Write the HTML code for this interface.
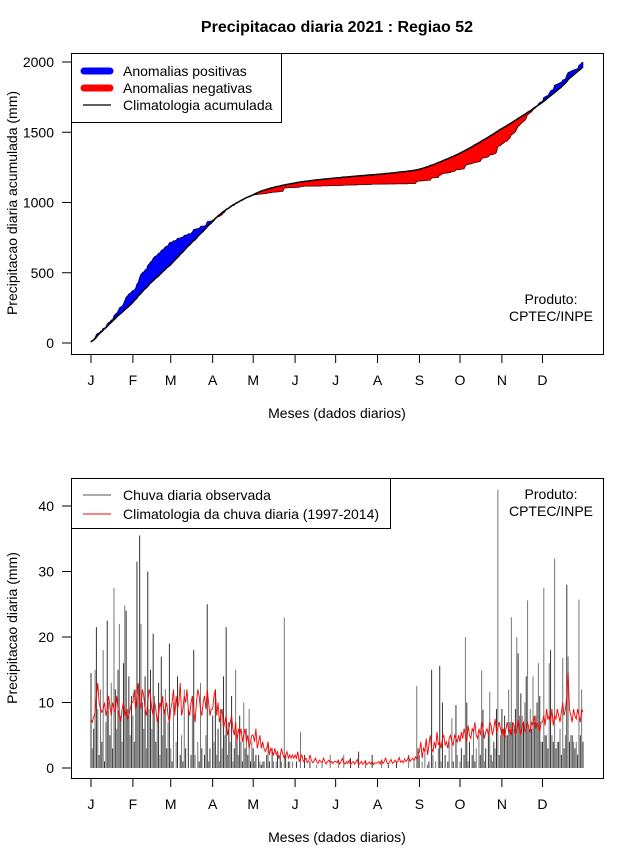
<!DOCTYPE html>
<html><head><meta charset="utf-8"><style>
body{margin:0;background:#fff}
svg{display:block;font-family:"Liberation Sans",sans-serif}
</style></head><body>
<svg id="c" width="640" height="850" viewBox="0 0 640 850" xmlns="http://www.w3.org/2000/svg">
<rect width="640" height="850" fill="#fff"/>
<text x="337" y="32" font-size="16" font-weight="bold" text-anchor="middle">Precipitacao diaria 2021 : Regiao 52</text>
<g id="top"></g>
<g id="bot"></g>
</svg>
<script>
const monthLabels = ["J","F","M","A","M","J","J","A","S","O","N","D"];
const monthStartDays = [1,32,60,91,121,152,182,213,244,274,305,335];
const topTicks = [0,500,1000,1500,2000];
const botTicks = [0,10,20,30,40];
const obsDaily = [
14.5,3,6,15,21.5,9,2,12,4,18,1,7,22.5,10,5,13,3,27.5,12,6,15,22,8,4,16,24.8,24,9,14,5,11,
8,4,12,31.5,12,35.5,22,10,6,14,3,30,9,15,6,20.5,11,4,8,13,2,17,5,9,12,3,7,19,
3,1,10,0,4,14,0,2,5,1,12,3,0,9,0,2,11,18,2,0,4,1,13,3,0,2,5,25,1,3,0,
8,4,12,2,6,1,9,3,14,5,21.5,2,7,4,11,1,3,15,5,2,8,4,1,10,3,6,2,9,1,4,
3,1,2,0,2,1,0.5,1,1,0,2,4,1,0,3,1,0,1,2,0,2,1,0,23,2,0,1,1,0,1,0,
0,1,0,0,5.5,0,0,2,0,0,0,1,0,0,0,0,0.5,0,0,0,1,0,0,0,0,0,2,0,0,0,
0,0,1,0,0,0,2,0,0,0,0,1.5,0,0,0,0,0,2.5,0,0,0,0,1,0,0,0,0,2,0,0,0,
0,0,0,1,0,0,0,0,0.5,0,0,0,0,0,1,0,0,0,0,0,0,0,0,2,0,0,0,1,0,12.5,3,
2,0,1,0,3,0,0.5,1,0,15,2,0,1,0,3,15.6,1,10,0,2,0,1,4,0,7.6,1,0,9.6,2,0,
1,3,0,2,20,10,1,4,0,2,6,1,3,0,5,2,14.9,8.9,1,3,0,5,11.6,2,1,4,3,9,42.5,2,5,
9,6,8,5,5,12,7,23,7,6,9,20,17.5,8,11.4,8,7,10,14,25.6,6,9,6,14,7,8,10,16,11,4,
4,27.5,5,5,3,16,18,5,4,32,3,4,4,6,2,16.8,3,5,28,17,4,5,5,4,3,4,2,25.7,5,12,4];
const climDaily = [
7.5,7,7.8,8.5,11,13,10,9,8.5,9,10,8,9,11,9.5,8,10,9,8.5,11,9,8,7,9,10,8,9,7.5,8,9,10,
10,12,9,11,13,10,9,12,11,9,8,10,12,11,9,8,10,9,7,8,10,9,11,8,9,10,8,7,
9,10,12,8,11,9,10,13,8,9,11,10,12,9,8,10,11,9,7,10,12,11,9,8,10,11,9,12,10,8,9,
9,11,12,8,10,7,8,9,6,7,8,5,6,7,8,6,5,7,4,6,5,6,4,5,6,4,5,3,4,5,
5,4,6,3,4,5,3,4,3,2.5,3,4,2,3,2.5,2,3,2,2.5,1.5,2,3,2,1.5,2,2.5,1.5,2,1.5,2,1.5,
2,1.5,2.5,1,1.5,2,1,1.2,1.5,0.8,1,2,1.2,0.8,1,1.5,1,0.7,1.2,1,0.8,1.5,1,0.6,1,1.2,0.8,1,0.7,1,
1,0.8,1.2,0.6,1,1.5,0.8,0.6,1,0.7,1.2,0.5,0.8,1,0.6,0.9,1.3,0.5,0.7,1,0.6,0.8,1.1,0.5,0.7,0.9,0.6,1,0.5,0.8,0.7,
0.8,1,0.6,1.2,0.7,1,1.5,0.8,0.6,1,1.3,0.7,0.9,1.2,0.8,1,1.6,0.9,1.1,0.8,1.4,1,1.2,1.8,1,1.3,1.5,1.1,1.7,1.4,2,
2.5,4,1.5,3,2.5,4.5,2,3.5,5,3,2.5,4,3,5.5,3.5,4,3,4.5,5,3.5,4,3,4.5,5,4,3.5,5,4.5,4,5,
4,5.5,4.5,6,5,4,6.5,5,4.5,6,5.5,7,5,4.5,6,5,7,6,4.5,5.5,6,5,7,6.5,5,6,7.5,5.5,6,7,6,
5,6,4.5,6,7,5.5,6,5,7,6.5,5,6,7.5,6,5,6.5,7,5.5,6,7,6,5.5,7,6.5,8,6,7,6.5,5.5,7,
7,8,6.5,9,7.5,8,7,9,6.5,8,7.5,9,8,7,8.5,10,8,9,11,14.5,9,8,7,9,8,7.5,9,8,7,9,8.5];

const NS="http://www.w3.org/2000/svg";
function mk(p,t,a,txt){const e=document.createElementNS(NS,t);for(const k in a)e.setAttribute(k,a[k]);if(txt!==undefined)e.textContent=txt;p.appendChild(e);return e;}
const xDay=d=>91+(d-1)*(583-91)/364;
const yTop=v=>343-v*(343-62)/2000;
const yBot=v=>768-v*(768-506)/40;
const n=obsDaily.length;
const cumObs=[],cumClim=[];let so=0,sc=0;
for(let i=0;i<n;i++){so+=obsDaily[i];sc+=climDaily[i];cumObs.push(so);cumClim.push(sc);}

function axes(g,top,bot,ticks,yf,ytitle,ymid){
  let e=mk(g,'rect',{x:71.5,y:top+.5,width:532,height:bot-top,fill:'none',stroke:'#000','stroke-width':1});
  
  ticks.forEach(t=>{const y=yf(t);
    mk(g,'line',{x1:62,x2:71.5,y1:y,y2:y,stroke:'#000'});
    e=mk(g,'text',{x:54,y:y+5,'font-size':14,'text-anchor':'end'},String(t));
    });
  monthStartDays.forEach((d,i)=>{const x=xDay(d);
    mk(g,'line',{x1:x,x2:x,y1:bot+.5,y2:bot+9,stroke:'#000'});
    e=mk(g,'text',{x:x,y:bot+31,'font-size':14,'text-anchor':'middle'},monthLabels[i]);
    });
  e=mk(g,'text',{x:337,y:bot+64,'font-size':14,'text-anchor':'middle'},'Meses (dados diarios)');
  
  e=mk(g,'text',{x:17,y:ymid,'font-size':14,'text-anchor':'middle',transform:`rotate(-90 17 ${ymid})`},ytitle);
  
}
// TOP panel
const gt=document.getElementById('top');
for(let i=0;i<n-1;i++){
  const d=cumObs[i]-cumClim[i]+cumObs[i+1]-cumClim[i+1];
  const p=mk(gt,'polygon',{points:`${xDay(i+1)},${yTop(cumObs[i])} ${xDay(i+2)},${yTop(cumObs[i+1])} ${xDay(i+2)},${yTop(cumClim[i+1])} ${xDay(i+1)},${yTop(cumClim[i])}`,fill:d>=0?'#0000ff':'#ff0000',stroke:d>=0?'#0000ff':'#ff0000','stroke-width':0.6});
  
  
}
let e=mk(gt,'polyline',{points:cumObs.map((v,i)=>xDay(i+1)+','+yTop(v)).join(' '),fill:'none',stroke:'#000','stroke-width':0.6});

e=mk(gt,'polyline',{points:cumClim.map((v,i)=>xDay(i+1)+','+yTop(v)).join(' '),fill:'none',stroke:'#000','stroke-width':1.5});

axes(gt,53,354,topTicks,yTop,'Precipitacao diaria acumulada (mm)',203);
e=mk(gt,'g',{});
mk(e,'rect',{x:71.5,y:53.5,width:210,height:69,fill:'#fff',stroke:'#000'});
mk(e,'line',{x1:84,x2:110,y1:71,y2:71,stroke:'#0000ff','stroke-width':7,'stroke-linecap':'round'});
mk(e,'line',{x1:84,x2:110,y1:88,y2:88,stroke:'#ff0000','stroke-width':7,'stroke-linecap':'round'});
mk(e,'line',{x1:83,x2:111,y1:105,y2:105,stroke:'#000','stroke-width':1.2});
mk(e,'text',{x:123,y:76,'font-size':14},'Anomalias positivas');
mk(e,'text',{x:123,y:93,'font-size':14},'Anomalias negativas');
mk(e,'text',{x:123,y:110,'font-size':14},'Climatologia acumulada');
e=mk(gt,'text',{x:551,y:304,'font-size':14,'text-anchor':'middle'},'Produto:');
mk(gt,'text',{x:551,y:321,'font-size':14,'text-anchor':'middle'},'CPTEC/INPE');

// BOTTOM panel
const gb=document.getElementById('bot');
obsDaily.forEach((v,i)=>{const x=xDay(i+1);
  const b=mk(gb,'line',{x1:x,x2:x,y1:yBot(0),y2:yBot(v),stroke:i%2?'#777':'#333','stroke-width':1});
  });
e=mk(gb,'polyline',{points:climDaily.map((v,i)=>xDay(i+1)+','+yBot(v)).join(' '),fill:'none',stroke:'#ff0000','stroke-width':0.9});

axes(gb,478,778,botTicks,yBot,'Precipitacao diaria (mm)',628);
e=mk(gb,'g',{});
mk(e,'rect',{x:71.5,y:478.5,width:319,height:50,fill:'#fff',stroke:'#000'});
mk(e,'line',{x1:83,x2:111,y1:495,y2:495,stroke:'#555','stroke-width':1});
mk(e,'line',{x1:83,x2:111,y1:514,y2:514,stroke:'#ff0000','stroke-width':1});
mk(e,'text',{x:123,y:500,'font-size':14},'Chuva diaria observada');
mk(e,'text',{x:123,y:519,'font-size':14},'Climatologia da chuva diaria (1997-2014)');
e=mk(gb,'text',{x:551,y:499,'font-size':14,'text-anchor':'middle'},'Produto:');
mk(gb,'text',{x:551,y:516,'font-size':14,'text-anchor':'middle'},'CPTEC/INPE');
</script>
</body></html>
